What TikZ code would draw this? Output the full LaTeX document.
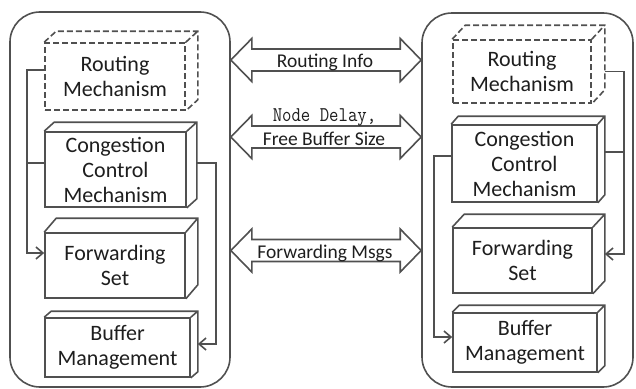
\documentclass[tikz,border=0pt]{standalone}
\usepackage{fontspec}
\usepackage{graphicx}
\setmainfont{Carlito}
\usetikzlibrary{arrows.meta,calc}
\definecolor{ln}{RGB}{80,80,80}
\definecolor{tx}{RGB}{30,30,30}
\tikzset{
  boxline/.style={draw=ln, line width=1.6pt, line join=miter},
  cube/.style={boxline, fill=white, text=tx, inner sep=0pt, align=center,
    font=\fontsize{22}{25}\selectfont},
  dashedline/.style={dash pattern=on 6pt off 3pt},
  cont/.style={draw=ln, line width=1.6pt, rounded corners=30pt, inner sep=0pt},
  conn/.style={draw=ln, line width=1.6pt},
  tip/.style={-{Straight Barb[length=7pt,width=12pt,line width=1.6pt]}},
  lbl/.style={text=tx, inner sep=0pt, anchor=base, font=\fontsize{19.5}{22}\selectfont},
}
\newcommand\cubeback[4]{%
  \draw[boxline,#4] (#1.north west) -- ++(#2,-#3) -- ($(#1.north east)+(#2,-#3)$)
    -- ($(#1.south east)+(#2,-#3)$) -- (#1.south east)
    (#1.north east) -- ++(#2,-#3);}
\newcommand\dblarrow[3]{%
  \coordinate (#1a) at (LN.east |- 0,#2);
  \coordinate (#1b) at (RN.west |- 0,#2);
  \draw[boxline, fill=white] (#1a) -- ++(21,-21.5) -- ++(0,10.5) -- ($(#1b)+(-21,-11)$)
    -- ++(0,-10.5) -- (#1b) -- ++(-21,21.5) -- ++(0,-10.5) -- ($(#1a)+(21,11)$)
    -- ++(0,10.5) -- cycle;}
\begin{document}
\begin{tikzpicture}[x=1pt,y=-1pt]
\useasboundingbox (0,0) rectangle (636,388);
% containers
\node[cont, minimum width=220pt, minimum height=375pt] (LN) at (120,199.5) {};
\node[cont, minimum width=211pt, minimum height=374pt] (RN) at (527.5,200) {};
% double arrows
\dblarrow{da1}{60}{}
\dblarrow{da2}{137}{}
\dblarrow{da3}{250.5}{}
\node[lbl] (l1) at (325,67) {Routing Info};
\node[lbl] (l2) at (324.5,121) {\scalebox{0.87}[1]{\ttfamily\fontsize{21}{24}\selectfont Node Delay,}};
\node[lbl] (l3) at (324,145) {Free Buffer Size};
\node[lbl] (l4) at (325,258) {Forwarding Msgs};
% left boxes
\node[cube, dashedline, minimum width=140pt, minimum height=67pt] (RL) at (115,76.5) {Routing\\Mechanism};
\cubeback{RL}{12}{11}{dashedline}
\node[cube, minimum width=141pt, minimum height=75pt] (CL) at (115.5,169.5) {Congestion\\Control\\Mechanism};
\cubeback{CL}{10}{9}{}
\node[cube, minimum width=140pt, minimum height=65pt] (FL) at (115,265.5) {Forwarding\\Set};
\cubeback{FL}{12}{14}{}
\node[cube, minimum width=145pt, minimum height=59pt] (BL) at (117.5,347.5) {Buffer\\Management};
\cubeback{BL}{7}{6}{}
% right boxes
\node[cube, dashedline, minimum width=138pt, minimum height=63pt] (RR) at (522,71.5) {Routing\\Mechanism};
\cubeback{RR}{13}{14}{dashedline}
\node[cube, minimum width=145pt, minimum height=77pt] (CR) at (524.5,163.5) {Congestion\\Control\\Mechanism};
\cubeback{CR}{7}{8}{}
\node[cube, minimum width=139pt, minimum height=65pt] (FR) at (522.5,260.5) {Forwarding\\Set};
\cubeback{FR}{12}{13}{}
\node[cube, minimum width=144pt, minimum height=59pt] (BR) at (525,342.5) {Buffer\\Management};
\cubeback{BR}{7}{7}{}
% left connectors
\draw[conn,tip] ([yshift=6.5pt]RL.west) -- ++(-17,0) |- ([yshift=12.5pt]FL.west);
\draw[conn] ([yshift=6.5pt]CL.west) -- ++(-17,0);
\draw[conn,tip] ($(CL.east)+(10,-6.5)$) -- ++(19,0) |- ($(BL.east)+(7,-3.5)$);
% right connectors
\draw[conn,tip] ($(RR.east)+(13,0)$) -- ++(19,0) |- ($(FR.east)+(12,-6.5)$);
\draw[conn] ($(CR.east)+(7,-11.5)$) -- ++(19,0);
\draw[conn,tip] ([yshift=7.5pt]CR.west) -- ++(-17,0) |- ([yshift=5.5pt]BR.west);
\end{tikzpicture}
\end{document}
